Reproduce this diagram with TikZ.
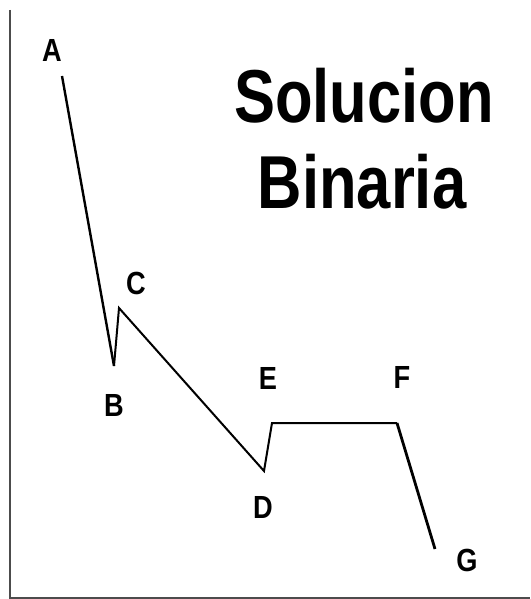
\documentclass[tikz,border=0pt]{standalone}
\usepackage{fontspec}
\setmainfont{Liberation Sans}
\begin{document}
\begin{tikzpicture}[x=1pt,y=-1pt,
  axis/.style={draw=black!70,line width=2pt},
  curve/.style={line width=2pt,line join=miter},
  ptlabel/.style={inner sep=0pt,font=\fontsize{32}{36}\selectfont\bfseries},
  titletext/.style={inner sep=0pt,font=\fontsize{75}{80}\selectfont\bfseries}]
\useasboundingbox (0,0) rectangle (530,599);
% axes
\coordinate (top) at (10,10);
\coordinate (origin) at (10,597.5);
\coordinate (right) at (530,597.5);
\draw[axis] (top) -- (origin) -- (right);
% path points
\coordinate (A) at (62,76);
\coordinate (B) at (114,366);
\coordinate (C) at (119,308);
\coordinate (D) at (264,471);
\coordinate (E) at (272,423);
\coordinate (F) at (397,423);
\coordinate (G) at (435,549);
\draw[line width=2.4pt] (A) -- (B);
\draw[curve] (B) -- (C) -- (D) -- (E) -- (F);
\draw[line width=2.8pt] (F) -- (G);
% labels
\node[ptlabel] (lA) at (52,50) {\scalebox{0.85}[1]{A}};
\node[ptlabel] (lB) at (114,405) {\scalebox{0.85}[1]{B}};
\node[ptlabel] (lC) at (136,283) {\scalebox{0.85}[1]{C}};
\node[ptlabel] (lD) at (263,507) {\scalebox{0.85}[1]{D}};
\node[ptlabel] (lE) at (268,378) {\scalebox{0.85}[1]{E}};
\node[ptlabel] (lF) at (402,377) {\scalebox{0.85}[1]{F}};
\node[ptlabel] (lG) at (467,560) {\scalebox{0.85}[1]{G}};
% title
\node[titletext] (t1) at (364,96) {\scalebox{0.82}[1]{Solucion}};
\node[titletext] (t2) at (362,182) {\scalebox{0.82}[1]{Binaria}};
\end{tikzpicture}
\end{document}
